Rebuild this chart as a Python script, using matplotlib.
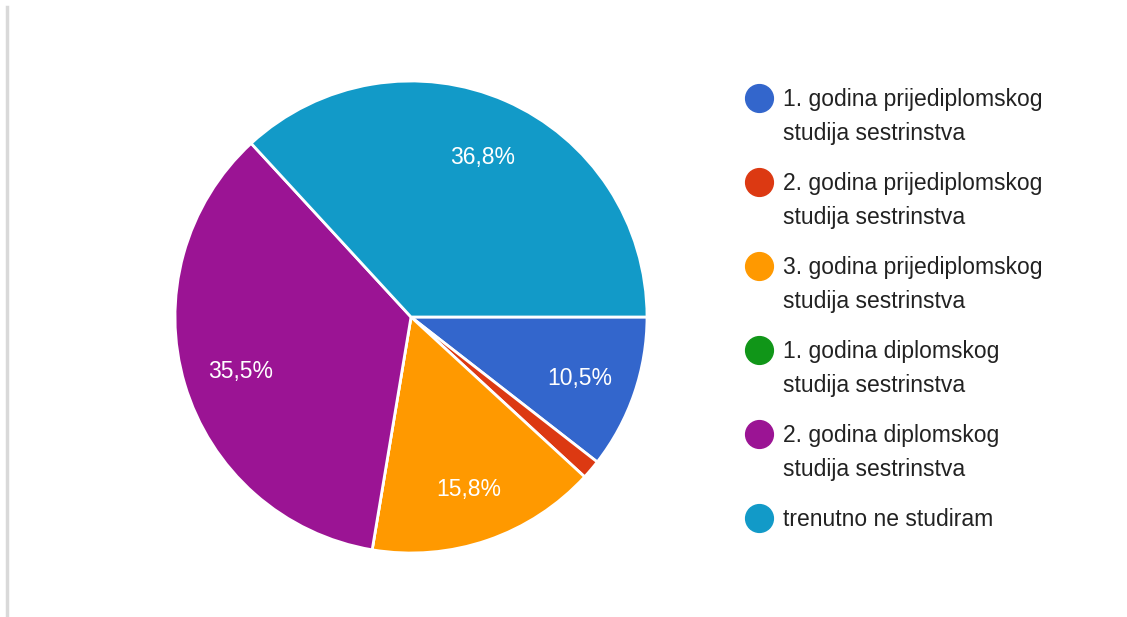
import matplotlib
matplotlib.use('Agg')
from matplotlib import pyplot as plt
from matplotlib.lines import Line2D
from matplotlib.transforms import ScaledTranslation

plt.rcParams['font.family'] = ['Liberation Sans', 'DejaVu Sans']

labels = ['1. godina prijediplomskog\nstudija sestrinstva',
          '2. godina prijediplomskog\nstudija sestrinstva',
          '3. godina prijediplomskog\nstudija sestrinstva',
          '1. godina diplomskog\nstudija sestrinstva',
          '2. godina diplomskog\nstudija sestrinstva',
          'trenutno ne studiram']
counts = [8, 1, 12, 0, 27, 28]
colors = ['#3366cc', '#dc3912', '#ff9900', '#109618', '#9b1494', '#129ac8']


def pct_label(p):
    if p < 5:
        return ''
    return f'{p:.1f}%'.replace('.', ',')


W, H = 1127, 617
fig = plt.figure(figsize=(W / 100, H / 100), dpi=100)

# pie centre (411, 317) px, radius 236 px
cx, cy, r = 411, 317, 236
ax = fig.add_axes([(cx - r) / W, (H - cy - r) / H, 2 * r / W, 2 * r / H])
wedges, _, autotexts = ax.pie(counts, colors=colors, startangle=0, counterclock=False,
                              autopct=pct_label, pctdistance=0.755,
                              wedgeprops=dict(edgecolor='white', linewidth=2),
                              textprops=dict(color='white', fontsize=16.5))
# nudge labels a little down, like the original
for t in autotexts:
    t.set_transform(t.get_transform() + ScaledTranslation(0, -0.04, fig.dpi_scale_trans))
ax.set_xlim(-1, 1)
ax.set_ylim(-1, 1)
ax.set_aspect('equal')
ax.axis('off')

# left grey border line
fig.add_artist(Line2D([7 / W, 7 / W], [0, 1 - 7 / H], color='#d9d9d9', linewidth=2.5))

# legend drawn by hand to get Google Forms spacing
top = 100
step = 84
for i, (lab, col) in enumerate(zip(labels, colors)):
    y = top + i * step
    fig.add_artist(Line2D([759 / W], [1 - (y - 2) / H], marker='o', markersize=20,
                          color=col, linestyle='none'))
    fig.text(783 / W, 1 - (y - 12) / H, lab, fontsize=16.5, color='#222222',
             va='top', ha='left', linespacing=1.6)

fig.savefig('out.png', dpi=100, facecolor='white')
